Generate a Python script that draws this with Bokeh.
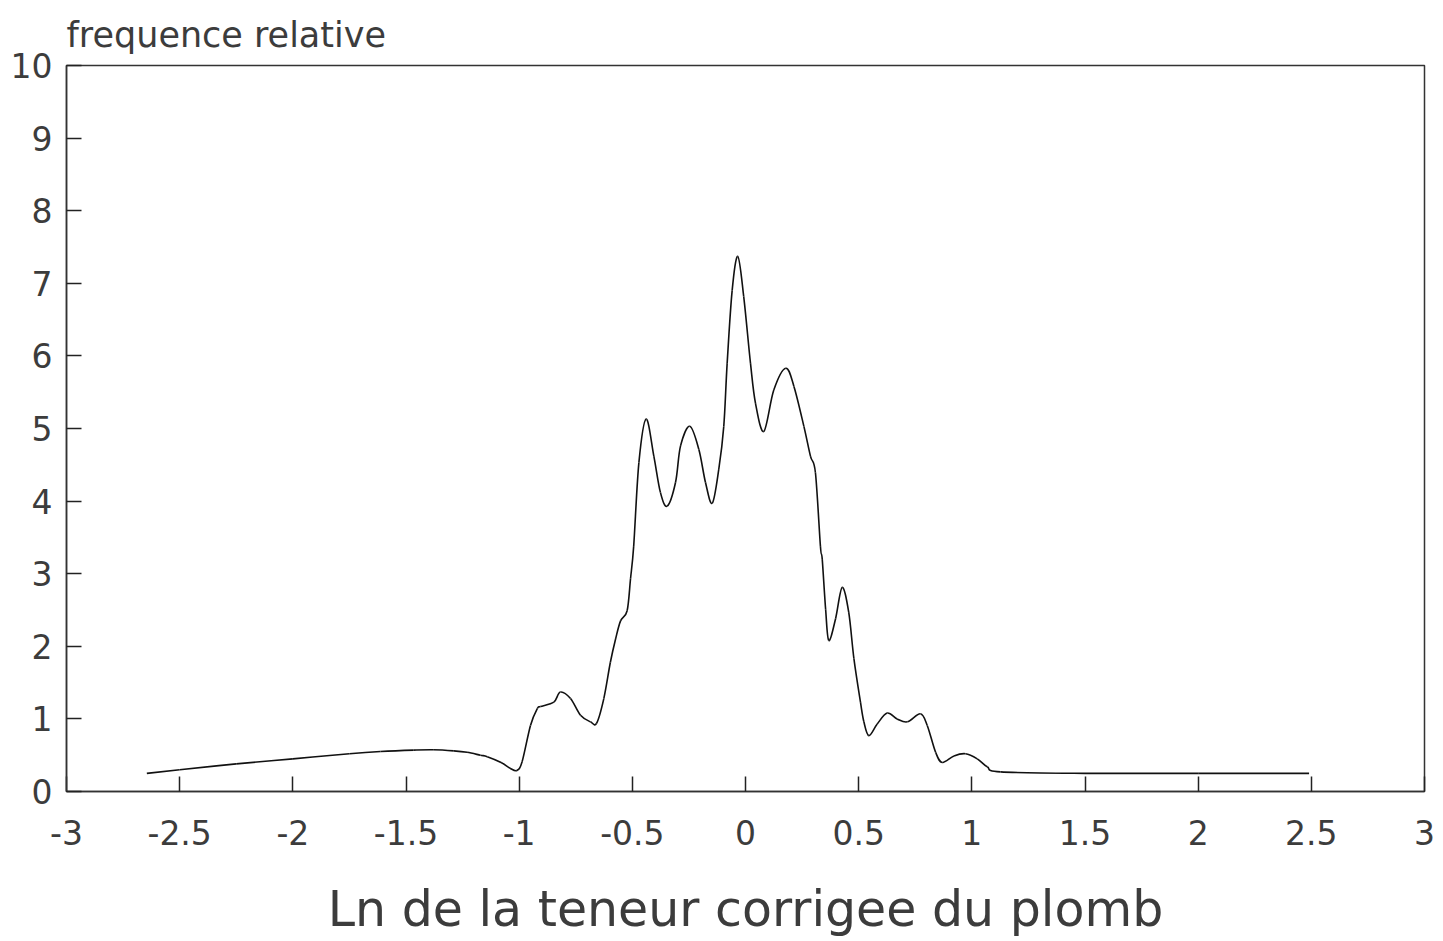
from bokeh.plotting import figure
from bokeh.models import FixedTicker, Range1d
from bokeh.embed import file_html
from bokeh.resources import INLINE

# Data
x_vals = [-2.645, -2.5, -2.25, -2.0, -1.75, -1.613, -1.466, -1.38, -1.289, -1.23, -1.171, -1.141,
          -1.08, -1.04, -1.01, -0.987, -0.95, -0.92, -0.906, -0.847, -0.818, -0.773, -0.729,
          -0.685, -0.658, -0.626, -0.597, -0.574, -0.552, -0.523, -0.508, -0.494, -0.471,
          -0.439, -0.405, -0.376, -0.346, -0.309, -0.287, -0.246, -0.206, -0.177, -0.147,
          -0.118, -0.096, -0.081, -0.059, -0.034, -0.008, 0.022, 0.044, 0.081, 0.125, 0.178,
          0.214, 0.258, 0.287, 0.309, 0.331, 0.339, 0.354, 0.368, 0.398, 0.427, 0.456, 0.479,
          0.508, 0.523, 0.545, 0.582, 0.626, 0.670, 0.715, 0.773, 0.803, 0.840, 0.869, 0.921,
          0.972, 1.024, 1.068, 1.127, 1.5, 2.0, 2.49]
y_vals = [0.25, 0.30, 0.38, 0.45, 0.52, 0.55, 0.57, 0.575, 0.56, 0.54, 0.50, 0.48,
          0.40, 0.32, 0.29, 0.41, 0.91, 1.14, 1.17, 1.23, 1.37, 1.28, 1.05,
          0.96, 0.94, 1.28, 1.78, 2.10, 2.35, 2.49, 2.93, 3.38, 4.53,
          5.13, 4.62, 4.12, 3.93, 4.26, 4.76, 5.03, 4.71, 4.26, 3.97,
          4.44, 5.03, 5.90, 6.90, 7.37, 6.82, 5.90, 5.35, 4.96, 5.53, 5.83,
          5.58, 5.03, 4.62, 4.39, 3.38, 3.20, 2.51, 2.08, 2.38, 2.81, 2.47, 1.83,
          1.23, 0.96, 0.77, 0.93, 1.08, 1.00, 0.96, 1.07, 0.91, 0.54, 0.40, 0.49,
          0.52, 0.45, 0.34, 0.27, 0.25, 0.25, 0.25]

x_ticks = [-3, -2.5, -2, -1.5, -1, -0.5, 0, 0.5, 1, 1.5, 2, 2.5, 3]
x_tick_labels = ["-3", "-2.5", "-2", "-1.5", "-1", "-0.5", "0", "0.5", "1", "1.5", "2", "2.5", "3"]
y_ticks = [0, 1, 2, 3, 4, 5, 6, 7, 8, 9, 10]
y_tick_labels = ["0", "1", "2", "3", "4", "5", "6", "7", "8", "9", "10"]

FONT = "'DejaVu Sans', sans-serif"
TXT = "#3c3c3c"

p = figure(width=1435, height=940, output_backend="svg", toolbar_location=None,
           x_range=Range1d(-3, 3), y_range=Range1d(0, 10),
           min_border_left=66, min_border_right=11, min_border_top=65, min_border_bottom=132,
           title="frequence relative")

p.title.text_font = FONT
p.title.text_font_size = "35px"
p.title.text_font_style = "normal"
p.title.text_color = TXT
p.title.align = "left"
p.title.standoff = 21

# Smooth curve through the read points (Catmull-Rom rendered as cubic Bezier segments)
n = len(x_vals)
x0, y0, x1, y1, cx0, cy0, cx1, cy1 = [], [], [], [], [], [], [], []
for i in range(n - 1):
    xa_, ya_ = x_vals[max(i - 1, 0)], y_vals[max(i - 1, 0)]
    xb, yb = x_vals[i], y_vals[i]
    xc, yc = x_vals[i + 1], y_vals[i + 1]
    xd, yd = x_vals[min(i + 2, n - 1)], y_vals[min(i + 2, n - 1)]
    x0.append(xb); y0.append(yb); x1.append(xc); y1.append(yc)
    cx0.append(xb + (xc - xa_) / 6.0); cy0.append(yb + (yc - ya_) / 6.0)
    cx1.append(xc - (xd - xb) / 6.0); cy1.append(yc - (yd - yb) / 6.0)

p.bezier(x0=x0, y0=y0, x1=x1, y1=y1, cx0=cx0, cy0=cy0, cx1=cx1, cy1=cy1,
         line_color="#111111", line_width=1.6)

p.xgrid.visible = False
p.ygrid.visible = False
p.outline_line_color = "#333333"
p.outline_line_width = 1.5
p.background_fill_color = "white"
p.border_fill_color = "white"

xa = p.xaxis[0]
xa.ticker = FixedTicker(ticks=x_ticks)
xa.major_label_overrides = {t: s for t, s in zip(x_ticks, x_tick_labels)}
xa.minor_tick_line_color = None
xa.major_tick_in = 15
xa.major_tick_out = 0
xa.major_tick_line_color = "#222222"
xa.major_tick_line_width = 1.5
xa.axis_line_color = "#333333"
xa.axis_line_width = 1.5
xa.major_label_text_font = FONT
xa.major_label_text_font_size = "33px"
xa.major_label_text_color = TXT
xa.major_label_standoff = 28
xa.axis_label = "Ln de la teneur corrigee du plomb"
xa.axis_label_text_font = FONT
xa.axis_label_text_font_size = "49px"
xa.axis_label_text_font_style = "normal"
xa.axis_label_text_color = TXT
xa.axis_label_standoff = 33

ya = p.yaxis[0]
ya.ticker = FixedTicker(ticks=y_ticks)
ya.major_label_overrides = {t: s for t, s in zip(y_ticks, y_tick_labels)}
ya.minor_tick_line_color = None
ya.major_tick_in = 15
ya.major_tick_out = 0
ya.major_tick_line_color = "#222222"
ya.major_tick_line_width = 1.5
ya.axis_line_color = "#333333"
ya.axis_line_width = 1.5
ya.major_label_text_font = FONT
ya.major_label_text_font_size = "33px"
ya.major_label_text_color = TXT
ya.major_label_standoff = 14

open("out.html", "w").write(file_html(p, INLINE))
